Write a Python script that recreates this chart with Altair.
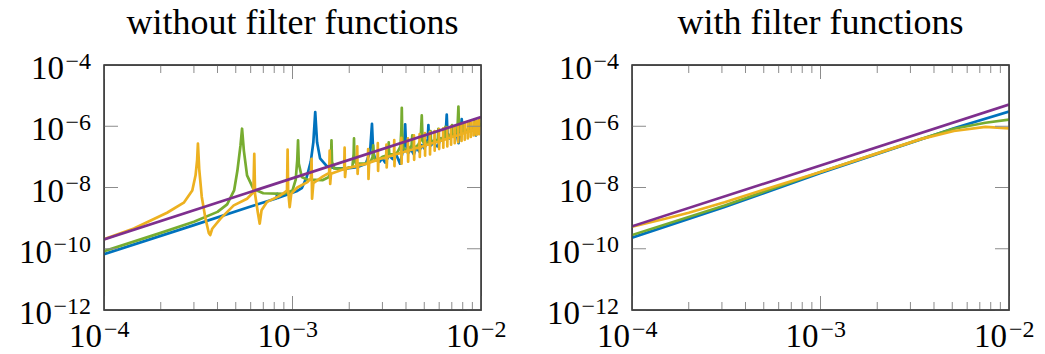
import altair as alt
import pandas as pd

# ---------------- axis ticks / labels ----------------
y_major = [1e-12, 1e-10, 1e-8, 1e-6, 1e-4]
y_exponents = ["−12", "−10", "−8", "−6", "−4"]
x_major = [1e-4, 1e-3, 1e-2]
x_exponents = ["−4", "−3", "−2"]
x_minor = [2e-4, 3e-4, 4e-4, 5e-4, 6e-4, 7e-4, 8e-4, 9e-4,
           2e-3, 3e-3, 4e-3, 5e-3, 6e-3, 7e-3, 8e-3, 9e-3]

titles = ["without filter functions", "with filter functions"]
series_names = ["blue", "green", "yellow", "purple"]
series_colors = ["#0072BD", "#77AC30", "#EDB120", "#7E2F8E"]

# ---------------- left panel: without filter functions ----------------
left_blue = [
    (1.0e-4, 6.6e-11), (3.0e-4, 5.9e-10), (6.0e-4, 2.4e-9), (8.2e-4, 4.4e-9),
    (8.3e-4, 6.2e-9), (8.4e-4, 4.6e-9), (9.5e-4, 6.0e-9), (1.05e-3, 7.5e-9),
    (1.12e-3, 9.5e-9), (1.19e-3, 2.2e-8), (1.25e-3, 7e-8), (1.29e-3, 3e-7),
    (1.32e-3, 2.9e-6), (1.35e-3, 3e-7), (1.40e-3, 9e-8), (1.52e-3, 5e-8),
    (1.7e-3, 4.2e-8), (1.95e-3, 4.2e-8), (2.2e-3, 4.6e-8), (2.45e-3, 6e-8),
    (2.58e-3, 1.5e-7), (2.64e-3, 1.2e-6), (2.68e-3, 1.5e-7), (2.75e-3, 8e-8),
    (2.9e-3, 7e-8), (3.0e-3, 9e-8), (3.1e-3, 6.5e-8), (3.25e-3, 1.1e-7),
    (3.4e-3, 8.5e-8), (3.55e-3, 1.2e-7), (3.72e-3, 6e-8), (3.85e-3, 1.6e-7),
    (3.92e-3, 3e-7), (3.96e-3, 1.15e-6), (4.0e-3, 2.5e-7), (4.1e-3, 1.3e-7),
    (4.25e-3, 1.8e-7), (4.4e-3, 1.2e-7), (4.55e-3, 2.1e-7), (4.7e-3, 1.5e-7),
    (4.85e-3, 2.4e-7), (5.0e-3, 1.9e-7), (5.15e-3, 2.8e-7), (5.22e-3, 4e-7),
    (5.26e-3, 1.1e-6), (5.30e-3, 3e-7), (5.45e-3, 2.4e-7), (5.6e-3, 3.4e-7),
    (5.75e-3, 2.3e-7), (5.9e-3, 2.2e-7), (6.1e-3, 4e-7), (6.3e-3, 3.5e-7),
    (6.5e-3, 6e-7), (6.58e-3, 2.4e-6), (6.64e-3, 6e-7), (6.8e-3, 4e-7),
    (7.0e-3, 5.5e-7), (7.2e-3, 4.5e-7), (7.4e-3, 6.5e-7), (7.6e-3, 2.8e-7),
    (7.8e-3, 7e-7), (7.9e-3, 1.7e-6), (8.0e-3, 7e-7), (8.3e-3, 6.5e-7),
    (8.6e-3, 8.5e-7), (8.9e-3, 7.5e-7), (9.2e-3, 1.0e-6), (9.4e-3, 5e-7),
    (9.6e-3, 1.05e-6), (9.8e-3, 9.5e-7), (1.0e-2, 1.2e-6),
]

left_green = [
    (1.0e-4, 8.3e-11), (2.0e-4, 3.3e-10), (3.0e-4, 7.6e-10), (4.0e-4, 1.6e-9),
    (4.5e-4, 2.8e-9), (4.9e-4, 8e-9), (5.1e-4, 3.5e-8), (5.3e-4, 2.4e-7),
    (5.40e-4, 8.3e-7), (5.52e-4, 1.6e-7), (5.74e-4, 2.5e-8), (6.2e-4, 9e-9),
    (7.0e-4, 6.5e-9), (9.0e-4, 6.2e-9), (1.0e-3, 8e-9), (1.04e-3, 1.8e-8),
    (1.06e-3, 8e-8), (1.07e-3, 3.45e-7), (1.08e-3, 6e-8), (1.12e-3, 2.2e-8),
    (1.2e-3, 1.8e-8), (1.45e-3, 1.75e-8), (1.56e-3, 2.2e-8), (1.6e-3, 8e-8),
    (1.61e-3, 3.45e-7), (1.62e-3, 7e-8), (1.66e-3, 4.2e-8), (1.9e-3, 4.0e-8),
    (2.08e-3, 5e-8), (2.11e-3, 1.2e-7), (2.12e-3, 4.0e-7), (2.13e-3, 9e-8),
    (2.17e-3, 6e-8), (2.4e-3, 6e-8), (2.6e-3, 7e-8), (2.66e-3, 1.0e-7),
    (2.68e-3, 2.4e-7), (2.70e-3, 9e-8), (2.85e-3, 8e-8), (3.0e-3, 1.0e-7),
    (3.15e-3, 1.1e-7), (3.22e-3, 1.5e-7), (3.24e-3, 3.0e-7), (3.26e-3, 1.2e-7),
    (3.4e-3, 1.2e-7), (3.6e-3, 1.4e-7), (3.74e-3, 2.2e-7), (3.78e-3, 8e-7),
    (3.80e-3, 4.0e-6), (3.82e-3, 6e-7), (3.86e-3, 2e-7), (4.0e-3, 1.6e-7),
    (4.15e-3, 1.9e-7), (4.28e-3, 2.3e-7), (4.32e-3, 5e-7), (4.36e-3, 2e-7),
    (4.5e-3, 2.1e-7), (4.65e-3, 2.5e-7), (4.78e-3, 3.5e-7), (4.85e-3, 2.25e-6),
    (4.9e-3, 3.5e-7), (5.0e-3, 2.6e-7), (5.2e-3, 2.9e-7), (5.36e-3, 3.5e-7),
    (5.40e-3, 7e-7), (5.44e-3, 2.8e-7), (5.6e-3, 3.3e-7), (5.9e-3, 3.7e-7),
    (5.94e-3, 8.3e-7), (5.98e-3, 3.4e-7), (6.2e-3, 4.0e-7), (6.44e-3, 4.8e-7),
    (6.48e-3, 9.5e-7), (6.52e-3, 4.2e-7), (6.8e-3, 5e-7), (6.98e-3, 5.8e-7),
    (7.02e-3, 1.1e-6), (7.06e-3, 5e-7), (7.3e-3, 5.8e-7), (7.5e-3, 8e-7),
    (7.59e-3, 4.4e-6), (7.65e-3, 8e-7), (7.8e-3, 6.5e-7), (8.06e-3, 7e-7),
    (8.1e-3, 1.3e-6), (8.14e-3, 6.5e-7), (8.4e-3, 7.5e-7), (8.6e-3, 8e-7),
    (8.64e-3, 1.4e-6), (8.68e-3, 7.5e-7), (9.0e-3, 8.5e-7), (9.18e-3, 9.5e-7),
    (9.22e-3, 1.5e-6), (9.26e-3, 8.5e-7), (9.5e-3, 1.0e-6), (9.72e-3, 1.1e-6),
    (9.76e-3, 1.6e-6), (9.8e-3, 1.0e-6), (1.0e-2, 1.25e-6),
]

left_yellow = [
    (1.0e-4, 2.05e-10), (1.44e-4, 4.6e-10), (2.16e-4, 1.5e-9), (2.65e-4, 3.2e-9),
    (2.94e-4, 8e-9), (3.06e-4, 2.5e-8), (3.12e-4, 8e-8), (3.15e-4, 2.7e-7),
    (3.20e-4, 4e-8), (3.30e-4, 5e-9), (3.45e-4, 1.0e-9), (3.60e-4, 3.2e-10),
    (3.66e-4, 2.8e-10), (3.75e-4, 4.5e-10), (4.15e-4, 9.6e-10), (4.88e-4, 2.6e-9),
    (5.74e-4, 4.3e-9), (6.20e-4, 7.0e-9), (6.27e-4, 1.26e-7), (6.33e-4, 6e-9),
    (6.55e-4, 1.5e-9), (6.70e-4, 6.6e-10), (6.85e-4, 1.8e-9), (7.33e-4, 3.4e-9),
    (8.63e-4, 5.5e-9), (9.35e-4, 8e-9), (9.42e-4, 1.74e-7), (9.48e-4, 8e-9),
    (9.66e-4, 2.3e-9), (9.85e-4, 6.3e-9), (1.06e-3, 1.0e-8), (1.20e-3, 1.5e-8),
    (1.25e-3, 2e-8), (1.262e-3, 8.7e-8), (1.27e-3, 4.3e-9), (1.29e-3, 1.4e-8),
    (1.45e-3, 2.3e-8), (1.565e-3, 3e-8), (1.575e-3, 1.6e-7), (1.585e-3, 1.3e-8),
    (1.60e-3, 2.8e-8), (1.88e-3, 4e-8), (1.89e-3, 2.0e-7), (1.90e-3, 2.2e-8),
    (1.92e-3, 4.2e-8), (2.19e-3, 5e-8), (2.205e-3, 2.2e-7), (2.215e-3, 2.8e-8),
    (2.23e-3, 5.3e-8), (2.51e-3, 6e-8), (2.52e-3, 1.8e-7), (2.53e-3, 1.9e-8),
    (2.55e-3, 6.5e-8), (2.825e-3, 8e-8), (2.835e-3, 2.8e-7), (2.845e-3, 3.5e-8),
    (2.86e-3, 8.5e-8), (3.14e-3, 9.5e-8), (3.15e-3, 2.5e-7), (3.16e-3, 4.5e-8),
    (3.18e-3, 1.0e-7), (3.455e-3, 1.15e-7), (3.465e-3, 3.5e-7), (3.475e-3, 5e-8),
    (3.49e-3, 1.2e-7), (3.77e-3, 1.35e-7), (3.78e-3, 4.2e-7), (3.79e-3, 6e-8),
    (3.80e-3, 1.4e-7), (4.085e-3, 1.55e-7), (4.095e-3, 4e-7), (4.105e-3, 7e-8),
    (4.12e-3, 1.6e-7), (4.40e-3, 1.8e-7), (4.41e-3, 5e-7), (4.42e-3, 8e-8),
    (4.43e-3, 1.85e-7), (4.715e-3, 2.0e-7), (4.725e-3, 5.5e-7), (4.735e-3, 1.0e-7),
    (4.75e-3, 2.1e-7), (5.03e-3, 2.3e-7), (5.04e-3, 6e-7), (5.05e-3, 1.1e-7),
    (5.06e-3, 2.4e-7), (5.345e-3, 2.6e-7), (5.355e-3, 6.5e-7), (5.365e-3, 1.2e-7),
    (5.38e-3, 2.7e-7), (5.66e-3, 2.9e-7), (5.67e-3, 7e-7), (5.68e-3, 1.6e-7),
    (5.69e-3, 3e-7), (5.975e-3, 3.2e-7), (5.985e-3, 8e-7), (5.995e-3, 1.8e-7),
    (6.01e-3, 3.3e-7), (6.29e-3, 3.5e-7), (6.30e-3, 8.5e-7), (6.31e-3, 2e-7),
    (6.32e-3, 3.6e-7), (6.605e-3, 3.9e-7), (6.615e-3, 9e-7), (6.625e-3, 2.2e-7),
    (6.64e-3, 4e-7), (6.92e-3, 4.3e-7), (6.93e-3, 1.0e-6), (6.94e-3, 2.5e-7),
    (6.95e-3, 4.4e-7), (7.235e-3, 4.7e-7), (7.245e-3, 1.0e-6), (7.255e-3, 2.8e-7),
    (7.27e-3, 4.8e-7), (7.55e-3, 5.1e-7), (7.56e-3, 1.1e-6), (7.57e-3, 3e-7),
    (7.58e-3, 5.2e-7), (7.865e-3, 5.6e-7), (7.875e-3, 1.2e-6), (7.885e-3, 3.3e-7),
    (7.9e-3, 5.7e-7), (8.18e-3, 6e-7), (8.19e-3, 1.25e-6), (8.20e-3, 3.6e-7),
    (8.21e-3, 6.2e-7), (8.495e-3, 6.5e-7), (8.505e-3, 1.3e-6), (8.515e-3, 4e-7),
    (8.53e-3, 6.7e-7), (8.81e-3, 7e-7), (8.82e-3, 1.35e-6), (8.83e-3, 4.5e-7),
    (8.84e-3, 7.2e-7), (9.125e-3, 7.6e-7), (9.135e-3, 1.4e-6), (9.145e-3, 5e-7),
    (9.16e-3, 7.8e-7), (9.44e-3, 8.2e-7), (9.45e-3, 1.5e-6), (9.46e-3, 5.2e-7),
    (9.47e-3, 8.4e-7), (9.755e-3, 8.8e-7), (9.765e-3, 1.6e-6), (9.775e-3, 5.5e-7),
    (9.79e-3, 9e-7), (1.0e-2, 1.0e-6),
]

left_purple = [(1.0e-4, 2.0e-10), (1.0e-2, 2.0e-6)]

# ---------------- right panel: with filter functions ----------------
right_blue = [(1.0e-4, 2.3e-10), (3.1e-4, 2.3e-9), (1.0e-3, 3.0e-8),
              (3.4e-3, 3.7e-7), (5.1e-3, 8.6e-7), (1.0e-2, 3.0e-6)]
right_green = [(1.0e-4, 2.8e-10), (3.1e-4, 2.6e-9), (1.0e-3, 3.2e-8),
               (3.4e-3, 3.8e-7), (5.1e-3, 8.3e-7), (7.5e-3, 1.3e-6),
               (1.0e-2, 1.65e-6)]
right_yellow = [(1.0e-4, 5.3e-10), (1.5e-4, 9.5e-10), (2.0e-4, 1.5e-9),
                (3.1e-4, 3.3e-9), (5.0e-4, 8.5e-9), (1.0e-3, 3.2e-8),
                (2.0e-3, 1.3e-7), (3.4e-3, 3.8e-7), (5.1e-3, 7.0e-7),
                (7.5e-3, 9.5e-7), (1.0e-2, 8.5e-7)]
right_purple = [(1.0e-4, 5.4e-10), (1.0e-2, 5.1e-6)]

# ---------------- styling ----------------
W, H = 377, 245
SERIF = "Liberation Serif"
TICK_COLOR = "#8c8c8c"
FRAME_COLOR = "#3a3a3a"

xs = alt.Scale(type="log", domain=[1e-4, 1e-2], nice=False)
ys = alt.Scale(type="log", domain=[1e-12, 1e-4], nice=False)


def series_layer(points, color):
    df = pd.DataFrame(points, columns=["x", "y"])
    return alt.Chart(df).mark_line(color=color, strokeWidth=2.7, clip=True,
                                   strokeJoin="round").encode(
        x=alt.X("x:Q", scale=xs, axis=None),
        y=alt.Y("y:Q", scale=ys, axis=None),
    )


def decorations(title):
    layers = []
    ydf = pd.DataFrame({"v": y_major, "exp": y_exponents})
    xdf = pd.DataFrame({"v": x_major, "exp": x_exponents})
    mdf = pd.DataFrame({"v": x_minor})
    # y ticks left and right
    for a, b in [(0, 14), (W - 14, W)]:
        layers.append(alt.Chart(ydf).mark_rule(color=TICK_COLOR, strokeWidth=1).encode(
            y=alt.Y("v:Q", scale=ys, axis=None), x=alt.value(a), x2=alt.value(b)))
    # x ticks top and bottom
    for df_, ln in [(xdf, 14), (mdf, 8)]:
        for a, b in [(0, ln), (H, H - ln)]:
            layers.append(alt.Chart(df_).mark_rule(color=TICK_COLOR, strokeWidth=1).encode(
                x=alt.X("v:Q", scale=xs, axis=None), y=alt.value(a), y2=alt.value(b)))
    # frame
    layers.append(alt.Chart(pd.DataFrame({"t": [title]})).mark_rect(
        fill=None, fillOpacity=0, stroke=FRAME_COLOR, strokeWidth=1.3).encode(
        x=alt.value(0), x2=alt.value(W), y=alt.value(0), y2=alt.value(H)))
    # y labels
    for nchar, dx in [(2, -40), (3, -52)]:
        layers.append(alt.Chart(ydf).transform_filter(
            f"length(datum.exp) == {nchar}").mark_text(
            font=SERIF, fontSize=33, align="right", baseline="alphabetic",
            dx=dx, dy=14, color="black").encode(
            y=alt.Y("v:Q", scale=ys, axis=None), x=alt.value(0), text=alt.value("10")))
    layers.append(alt.Chart(ydf).mark_text(
        font=SERIF, fontSize=24, align="right", baseline="alphabetic",
        dx=-13, dy=3.5, color="black").encode(
        y=alt.Y("v:Q", scale=ys, axis=None), x=alt.value(0), text="exp:N"))
    # x labels
    layers.append(alt.Chart(xdf).mark_text(
        font=SERIF, fontSize=33, align="right", baseline="alphabetic",
        dx=-2, color="black").encode(
        x=alt.X("v:Q", scale=xs, axis=None), y=alt.value(H + 37), text=alt.value("10")))
    layers.append(alt.Chart(xdf).mark_text(
        font=SERIF, fontSize=24, align="left", baseline="alphabetic",
        dx=0, color="black").encode(
        x=alt.X("v:Q", scale=xs, axis=None), y=alt.value(H + 26.5), text="exp:N"))
    # title
    layers.append(alt.Chart(pd.DataFrame({"t": [title]})).mark_text(
        font=SERIF, fontSize=36, align="center", baseline="alphabetic",
        color="black").encode(
        x=alt.value(W / 2), y=alt.value(-31), text="t:N"))
    return layers


def panel(series, title):
    lines = [series_layer(pts, col) for pts, col in zip(series, series_colors)]
    return alt.layer(*(lines + decorations(title))).properties(width=W, height=H)


left = panel([left_blue, left_green, left_yellow, left_purple], titles[0])
right = panel([right_blue, right_green, right_yellow, right_purple], titles[1])

chart = alt.hconcat(left, right, spacing=151, bounds="flush").properties(
    padding={"left": 18, "top": 4, "right": 0, "bottom": 0}
).configure_view(stroke=FRAME_COLOR, strokeWidth=1.3)

chart.save("out.html", embed_options={"renderer": "svg", "actions": False})
